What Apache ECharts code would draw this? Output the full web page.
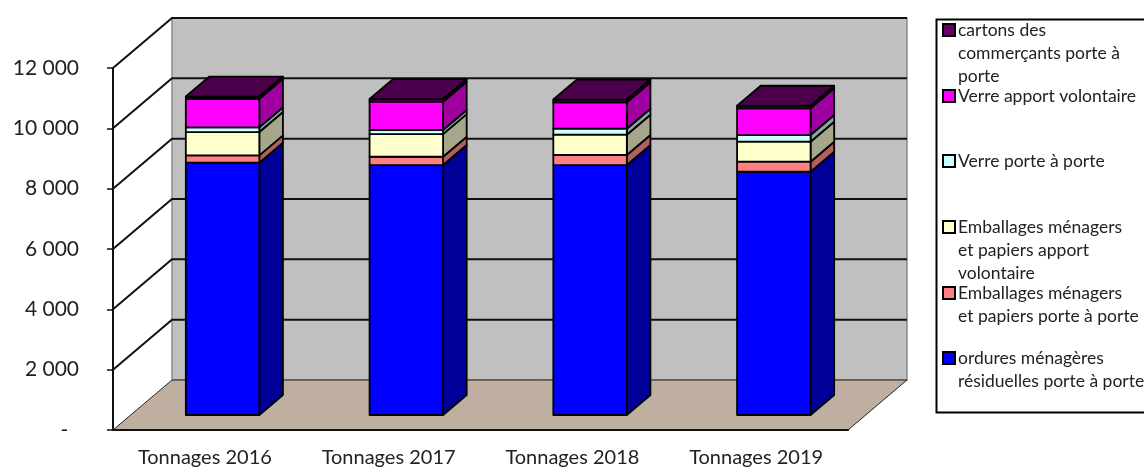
<!DOCTYPE html>
<html>
<head>
<meta charset="utf-8">
<style>
html, body { margin: 0; padding: 0; background: #fff; overflow: hidden; }
#chart { width: 1144px; height: 467px; }
</style>
<script src="https://cdn.jsdelivr.net/npm/echarts@6/dist/echarts.min.js"></script>
</head>
<body>
<div id="chart"></div>
<script>
var categories = ['Tonnages 2016', 'Tonnages 2017', 'Tonnages 2018', 'Tonnages 2019'];

// valeurs, du bas vers le haut de la pile
var ordures = [8363, 8286, 8286, 8063];
var emballagesPorte = [245, 274, 332, 333];
var emballagesApport = [772, 750, 673, 663];
var verrePorte = [156, 137, 199, 221];
var verreApport = [948, 938, 875, 886];
var cartons = [73, 89, 92, 86];

var yTicks = [0, 2000, 4000, 6000, 8000, 10000, 12000];

var stack = [
  { name: 'ordures ménagères résiduelles porte à porte', values: ordures, color: '#0000ff', side: '#000099' },
  { name: 'Emballages ménagers et papiers porte à porte', values: emballagesPorte, color: '#ff8080', side: '#b06060' },
  { name: 'Emballages ménagers et papiers apport volontaire', values: emballagesApport, color: '#ffffcc', side: '#a6a68a' },
  { name: 'Verre porte à porte', values: verrePorte, color: '#ccffff', side: '#86a8a8' },
  { name: 'Verre apport volontaire', values: verreApport, color: '#ff00ff', side: '#a000a0' },
  { name: 'cartons des commerçants porte à porte', values: cartons, color: '#660066', side: '#4b004b' }
];

// lignes de la légende : y de la première ligne, première ligne, suite
var legendRows = [
  { y: 30, name: stack[5].name, first: 'cartons des', rest: 'commerçants porte à\nporte' },
  { y: 96, name: stack[4].name, first: 'Verre apport volontaire', rest: '' },
  { y: 161, name: stack[3].name, first: 'Verre porte à porte', rest: '' },
  { y: 227, name: stack[2].name, first: 'Emballages ménagers', rest: 'et papiers apport\nvolontaire' },
  { y: 293, name: stack[1].name, first: 'Emballages ménagers', rest: 'et papiers porte à porte' },
  { y: 358, name: stack[0].name, first: 'ordures ménagères', rest: 'résiduelles porte à porte' }
];

var FONT = 'Lato';
var DEPTH_X = 59, DEPTH_Y = 50;
var LINE = '#111';

function renderWalls(params, api) {
  var cs = params.coordSys;
  var left = cs.x, right = cs.x + cs.width, top = cs.y, bottom = cs.y + cs.height;
  return {
    type: 'group',
    children: [
      { type: 'rect', shape: { x: left + DEPTH_X, y: top - DEPTH_Y, width: cs.width, height: cs.height },
        style: { fill: '#c0c0c0', stroke: '#8a8a8a', lineWidth: 1.5 } },
      { type: 'polygon', shape: { points: [[left, bottom], [right, bottom], [right + DEPTH_X, bottom - DEPTH_Y], [left + DEPTH_X, bottom - DEPTH_Y]] },
        style: { fill: '#bfafa0', stroke: '#222', lineWidth: 1 }, z2: 5 }
    ]
  };
}

function renderGridLine(params, api) {
  var cs = params.coordSys;
  var p = api.coord([0, api.value(0)]);
  return {
    type: 'polyline',
    shape: { points: [[cs.x, p[1]], [cs.x + DEPTH_X, p[1] - DEPTH_Y], [cs.x + cs.width + DEPTH_X, p[1] - DEPTH_Y]] },
    style: { fill: null, stroke: LINE, lineWidth: 2 }
  };
}

function makeBarRenderer(seg, isTop) {
  return function (params, api) {
    var i = api.value(0);
    var low = api.coord([i, api.value(1)]);
    var high = api.coord([i, api.value(2)]);
    var slot = api.size([1, 0])[0];
    var w = slot * 0.4;
    var sx = DEPTH_X * 0.3, sy = DEPTH_Y * 0.3;
    var dx = DEPTH_X * 0.4, dy = DEPTH_Y * 0.4;
    var x0 = low[0] + sx - w / 2, x1 = x0 + w;
    var y0 = low[1] - sy, y1 = high[1] - sy;
    var border = { stroke: '#000', lineWidth: 1.8, lineJoin: 'round' };
    var kids = [
      { type: 'polygon', shape: { points: [[x1, y0], [x1 + dx, y0 - dy], [x1 + dx, y1 - dy], [x1, y1]] },
        style: Object.assign({ fill: seg.side }, border) },
      { type: 'rect', shape: { x: x0, y: y1, width: w, height: y0 - y1 },
        style: Object.assign({ fill: seg.color }, border) }
    ];
    if (isTop) {
      kids.push({ type: 'polygon', shape: { points: [[x0, y1], [x1, y1], [x1 + dx, y1 - dy], [x0 + dx, y1 - dy]] },
        style: Object.assign({ fill: seg.side }, border) });
    }
    return { type: 'group', children: kids };
  };
}

var barSeries = stack.map(function (seg, k) {
  var data = seg.values.map(function (v, i) {
    var base = 0;
    for (var j = 0; j < k; j++) base += stack[j].values[i];
    return [i, base, base + v];
  });
  return {
    type: 'custom',
    name: seg.name,
    z: 5,
    itemStyle: { color: seg.color },
    encode: { x: 0, y: [1, 2] },
    data: data,
    renderItem: makeBarRenderer(seg, k === stack.length - 1)
  };
});

var legends = legendRows.map(function (row) {
  return {
    data: [row.name],
    left: 942,
    top: row.y - 9,
    padding: 0,
    itemWidth: 12,
    itemHeight: 12,
    itemGap: 0,
    selectedMode: false,
    icon: 'rect',
    itemStyle: { borderColor: '#000', borderWidth: 2 },
    textStyle: { fontFamily: FONT, fontSize: 17.5, color: '#222', padding: [0, 0, 0, -2] },
    formatter: function () { return row.first; }
  };
});

var legendGraphics = [
  { type: 'rect', shape: { x: 936.5, y: 19.5, width: 240, height: 393 },
    style: { fill: '#fff', stroke: '#000', lineWidth: 2 }, z: -1 }
];
legendRows.forEach(function (row) {
  if (row.rest) {
    legendGraphics.push({
      type: 'text', x: 958, y: row.y + 12,
      style: { text: row.rest, font: '17.5px ' + FONT, fill: '#222', lineHeight: 23, verticalAlign: 'top' }
    });
  }
});

var chart = echarts.init(document.getElementById('chart'), null, { renderer: 'canvas' });
chart.setOption({
  animation: false,
  backgroundColor: '#fff',
  grid: { left: 113, top: 68, width: 735, height: 362, containLabel: false, outerBoundsMode: 'none' },
  legend: legends,
  graphic: legendGraphics,
  xAxis: {
    type: 'category',
    data: categories,
    z: 6,
    axisLine: { lineStyle: { color: LINE, width: 2 } },
    axisTick: { alignWithLabel: false, length: 7, lineStyle: { color: LINE, width: 1.5 } },
    axisLabel: { fontFamily: FONT, fontSize: 20, color: '#222', margin: 18 }
  },
  yAxis: {
    type: 'value',
    min: 0,
    max: 12000,
    interval: 2000,
    splitLine: { show: false },
    axisLine: { show: true, lineStyle: { color: LINE, width: 2 } },
    axisTick: { show: true, length: 6, lineStyle: { color: LINE, width: 1.5 } },
    axisLabel: {
      fontFamily: FONT, fontSize: 21, color: '#222', margin: 34,
      formatter: function (v) {
        if (v === 0) return '-  ';
        return String(v).replace(/\B(?=(\d{3})+$)/g, ' ');
      }
    }
  },
  series: [
    { type: 'custom', silent: true, z: 1, data: [[0]], renderItem: renderWalls },
    { type: 'custom', silent: true, z: 2, data: yTicks.slice(1).map(function (v) { return [v]; }), encode: { y: 0 }, renderItem: renderGridLine }
  ].concat(barSeries)
});
</script>
</body>
</html>
